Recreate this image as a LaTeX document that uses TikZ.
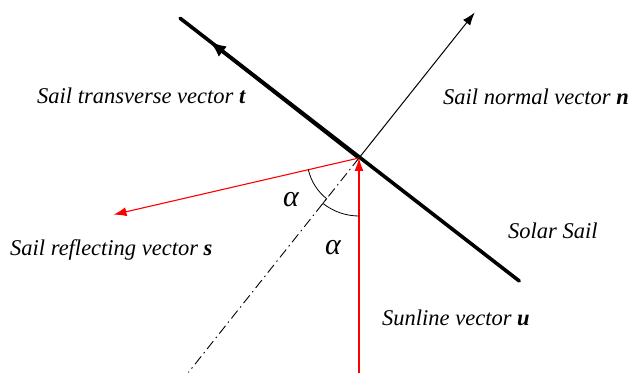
\documentclass[tikz,border=0pt]{standalone}
\usepackage{fontspec}
\setmainfont{Liberation Serif}
\usetikzlibrary{arrows.meta,calc}

\begin{document}
\begin{tikzpicture}[
      x=1pt,y=1pt,
      >=Latex,
      label/.style={anchor=base west,inner sep=0pt,font=\fontsize{22.5}{26}\selectfont\itshape},
      greek/.style={inner sep=0pt,font=\fontsize{30}{32}\selectfont\itshape},
      sail/.style={line width=3.6pt,line cap=round},
      ray/.style={red,line width=1.1pt},
      tip/.style={-{Latex[length=13pt,width=9pt]}}
    ]
      \useasboundingbox (0,0) rectangle (630,373);
      \coordinate (c) at (359,215);
      \coordinate (saila) at ($(c)+(142:227)$);
      \coordinate (sailb) at ($(c)+(-37.5:202)$);
      \coordinate (tdir) at ($(c)+(142:190)$);
      \coordinate (ndir) at ($(c)+(51.5:186)$);
      \coordinate (sdir) at ($(c)+(193:252)$);
      \coordinate (sun) at (359,0);
      \coordinate (axis) at ($(c)+(231.5:274)$);
      \draw[sail] (saila) -- (sailb);
      \draw[line width=3.6pt,-{Latex[length=17pt,width=13pt]}] (c) -- (tdir);
      \draw[line width=1pt,tip] (c) -- (ndir);
      \draw[ray,tip] (sun) -- (c);
      \draw[ray,tip] (c) -- (sdir);
      \draw[line width=0.9pt,dash pattern=on 10pt off 4pt on 1.5pt off 4pt] (c) -- (axis);
      \draw[line width=0.8pt] ($(c)+(193:52)$) arc[start angle=193,end angle=231.5,radius=52]
        -- ++(231.5:6) arc[start angle=231.5,end angle=270,radius=58];
      \node[label] (tlabel) at (37,269) {Sail transverse vector \textbf{t}};
      \node[label] (nlabel) at (443,268) {Sail normal vector \textbf{n}};
      \node[label] (slabel) at (10,118) {Sail reflecting vector \textbf{s}};
      \node[label] (saillabel) at (508,135) {Solar Sail};
      \node[label] (ulabel) at (382,48) {Sunline vector \textbf{u}};
      \node[greek] (alpha1) at (291,173) {α};
      \node[greek] (alpha2) at (333,125) {α};
    \end{tikzpicture}
\end{document}
